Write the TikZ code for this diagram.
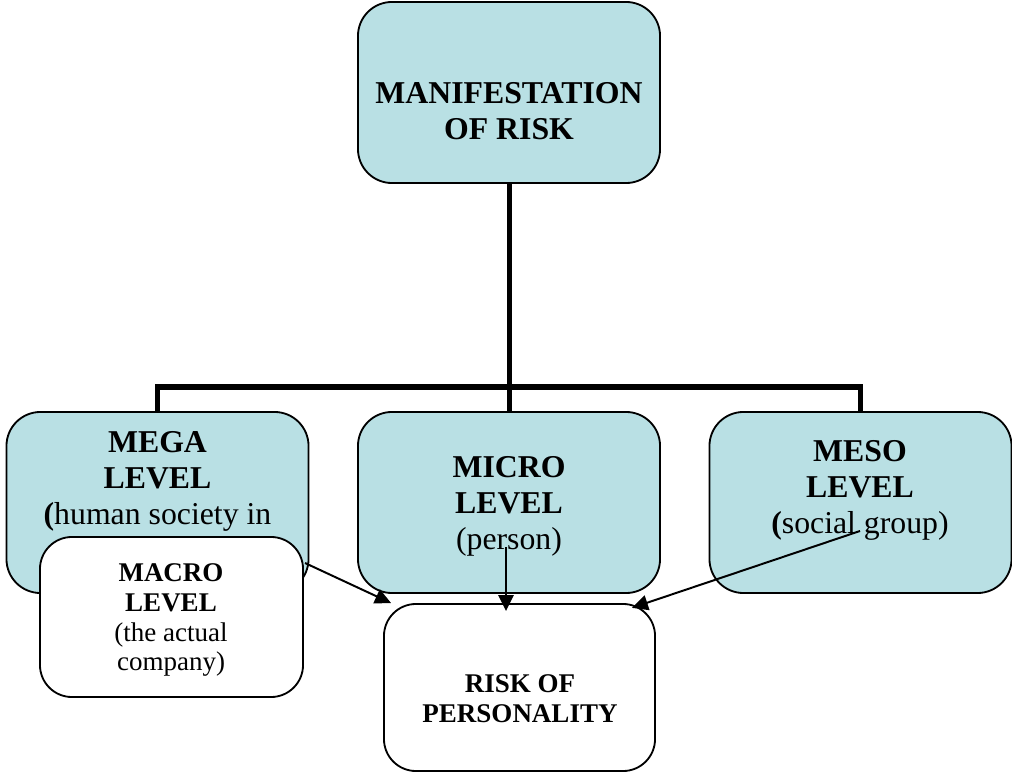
\documentclass[tikz,border=0pt]{standalone}
\usepackage{fontspec}
\setmainfont{Liberation Serif}
\usepackage{tikz}
\usetikzlibrary{arrows.meta, positioning}
\definecolor{colorLevel}{RGB}{185,224,228}
\tikzset{
  lvlbox/.style={draw, fill=colorLevel, line width=1.3pt, rounded corners=0.85cm,
    minimum width=7.55cm, minimum height=4.525cm, inner sep=0pt},
  whitebox/.style={draw, fill=white, line width=1.3pt, rounded corners=0.8cm, inner sep=0pt},
  bigtext/.style={align=center, inner sep=0pt, font=\fontsize{22.6}{25.6}\selectfont},
  smalltext/.style={align=center, inner sep=0pt, font=\fontsize{19.2}{21.3}\selectfont},
  bus/.style={line width=0.125cm},
  link/.style={->, line width=1.4pt}
}

\begin{document}
\begin{tikzpicture}[x=0.025cm, y=-0.025cm, >={Triangle[length=0.4cm,width=0.38cm]}]
\useasboundingbox (0,0) rectangle (1012,773);
% boxes
\node[lvlbox] (risk) at (509,92.5) {};
\node[lvlbox] (mega) at (157.5,502.5) {};
\node[lvlbox] (micro) at (509,502.5) {};
\node[lvlbox] (meso) at (860.5,502.5) {};
\node[whitebox, minimum width=6.575cm, minimum height=4cm] (macro) at (171.5,617) {};
\node[whitebox, minimum width=6.775cm, minimum height=4.175cm] (pers) at (519.5,687.5) {};
% texts
\node[bigtext] (risktxt) at (509,111) {\textbf{MANIFESTATION}\\\textbf{OF RISK}};
\node[bigtext] (megatxt) at (157.5,481) {\textbf{MEGA}\\\textbf{LEVEL}\\\textbf{(}human society in};
\node[bigtext] (microtxt) at (509,506) {\textbf{MICRO}\\\textbf{LEVEL}\\(person)};
\node[bigtext] (mesotxt) at (860,490) {\textbf{MESO}\\\textbf{LEVEL}\\\textbf{(}social group)};
\node[smalltext] (macrotxt) at (171,620) {\textbf{MACRO}\\\textbf{LEVEL}\\(the actual\\company)};
\node[smalltext] (perstxt) at (520,699) {\textbf{RISK OF}\\\textbf{PERSONALITY}};
% bus
\coordinate (busmid) at (509,387);
\draw[bus] (risk.south) -- (busmid);
\draw[bus] (mega.north) -- (mega.north |- busmid) -- (meso.north |- busmid) -- (meso.north);
\draw[bus] (busmid) -- (micro.north);
% arrows
\coordinate (macroout) at (305,563);
\coordinate (microout) at (506,547);
\coordinate (mesoout) at (860,531);
\draw[link] (macroout) -- ([xshift=0.2cm]pers.north west);
\draw[link] (microout) -- ([yshift=-0.2cm]microout |- pers.north);
\draw[link] (mesoout) -- ([xshift=-0.6cm, yshift=-0.12cm]pers.north east);
\end{tikzpicture}
\end{document}
